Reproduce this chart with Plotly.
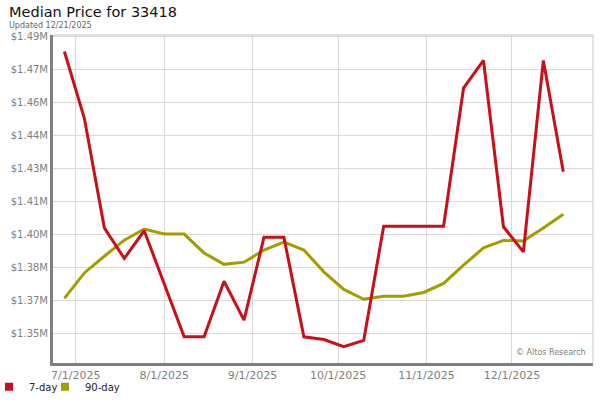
import plotly.graph_objects as go
import pandas as pd

dates = pd.date_range("2025-06-27", "2025-12-19", freq="7D")
seven_day = [1478400, 1448000, 1398100, 1384200, 1396800, 1372600, 1348500, 1348500,
             1373800, 1356100, 1393800, 1393800, 1348500, 1347300, 1344000, 1346900,
             1398900, 1398900, 1398900, 1398900, 1461700, 1474300, 1398600, 1387200,
             1474300, 1423700]
ninety_day = [1366000, 1377600, 1385200, 1392500, 1397600, 1395300, 1395300, 1386700,
              1381500, 1382500, 1388000, 1391600, 1388000, 1378100, 1370100, 1365600,
              1367000, 1367000, 1368700, 1372800, 1381100, 1389000, 1392400, 1392100,
              1398100, 1404300]
x_tick_dates = ["2025-07-01", "2025-08-01", "2025-09-01", "2025-10-01", "2025-11-01", "2025-12-01"]
x_tick_labels = ["7/1/2025", "8/1/2025", "9/1/2025", "10/1/2025", "11/1/2025", "12/1/2025"]
y_tick_vals = [1350000, 1365000, 1380000, 1395000, 1410000, 1425000, 1440000, 1455000, 1470000, 1485000]
y_tick_labels = ["$1.35M", "$1.37M", "$1.38M", "$1.40M", "$1.41M", "$1.43M", "$1.44M", "$1.46M", "$1.47M", "$1.49M"]

RED = "#c8101a"
OLIVE = "#a39d00"

fig = go.Figure()
fig.add_trace(go.Scatter(x=dates, y=ninety_day, mode="lines", line=dict(color=OLIVE, width=3),
                         showlegend=False, hoverinfo="skip"))
fig.add_trace(go.Scatter(x=dates, y=seven_day, mode="lines", line=dict(color=RED, width=3),
                         showlegend=False, hoverinfo="skip"))
# legend entries
fig.add_trace(go.Scatter(x=[None], y=[None], mode="markers", name="7-day", legend="legend",
                         marker=dict(symbol="square", color=RED, size=8)))
fig.add_trace(go.Scatter(x=[None], y=[None], mode="markers", name="90-day", legend="legend2",
                         marker=dict(symbol="square", color=OLIVE, size=8)))

grid = "#d9d9d9"
leg_common = dict(orientation="h", y=-0.028, xanchor="left", yanchor="top",
                  font=dict(size=10, color="#222222"), itemwidth=30,
                  bgcolor="rgba(0,0,0,0)")
fig.update_layout(
    width=600, height=400,
    margin=dict(l=53, r=7, t=35, b=37, autoexpand=False),
    plot_bgcolor="white", paper_bgcolor="white",
    font=dict(family="DejaVu Sans", size=11, color="#333333"),
    xaxis=dict(type="date", range=["2025-06-23", "2025-12-29 10:00"],
               tickvals=x_tick_dates, ticktext=x_tick_labels, automargin=False,
               showgrid=True, gridcolor=grid, gridwidth=1,
               showline=True, linecolor="#7f7f7f", linewidth=3,
               ticks="", tickfont=dict(size=11, color="#808080"), zeroline=False),
    yaxis=dict(range=[1336600, 1485900], tickvals=y_tick_vals, ticktext=y_tick_labels,
               automargin=False,
               showgrid=True, gridcolor=grid, gridwidth=1,
               showline=True, linecolor="#7f7f7f", linewidth=3,
               ticks="", ticklen=0, tickfont=dict(size=10, color="#808080"), zeroline=False),
    legend=dict(x=-0.1185, **leg_common),
    legend2=dict(x=-0.0148, **leg_common),
    showlegend=True,
)
fig.add_shape(type="line", xref="paper", yref="paper", x0=0, x1=1, y0=1, y1=1,
              line=dict(color=grid, width=1.5))
fig.add_shape(type="line", xref="paper", yref="paper", x0=1, x1=1, y0=0, y1=1,
              line=dict(color=grid, width=1.5))
fig.add_annotation(text="Median Price for 33418", xref="paper", yref="paper",
                   x=-0.0852, y=1.0701, xanchor="left", yanchor="middle", showarrow=False,
                   font=dict(size=14.5, color="#111111"))
fig.add_annotation(text="Updated 12/21/2025", xref="paper", yref="paper",
                   x=-0.0852, y=1.029, xanchor="left", yanchor="middle", showarrow=False,
                   font=dict(size=8, color="#666666"))
fig.add_annotation(text="© Altos Research", xref="paper", yref="paper",
                   x=0.9907, y=0.0305, xanchor="right", yanchor="middle", showarrow=False,
                   font=dict(size=8, color="#808080"))

fig.write_html("out.html", config={"displayModeBar": False},
               post_script="document.body.style.margin='0px';")
